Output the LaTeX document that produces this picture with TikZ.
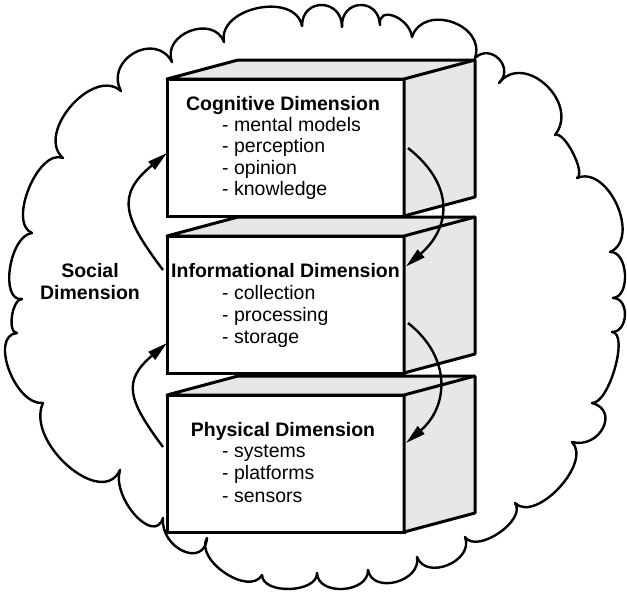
\documentclass[tikz,border=0pt]{standalone}
\usepackage{fontspec}
\setmainfont{Liberation Sans}
\usetikzlibrary{calc,arrows.meta}
\definecolor{facegray}{RGB}{230,231,233}
\begin{document}
\begin{tikzpicture}[x=1pt,y=-1pt,
  cloudline/.style={line width=2.4pt, line cap=round},
  boxline/.style={line width=3pt},
  frontface/.style={boxline, draw=black, fill=white, minimum width=237pt, minimum height=137pt, inner sep=0pt, outer sep=0pt, line join=miter},
  sideface/.style={boxline, draw=black, fill=facegray, line join=round},
  title/.style={font=\fontsize{19.5}{22}\selectfont\bfseries, inner sep=0pt, anchor=base},
  item/.style={font=\fontsize{19.5}{22}\selectfont, inner sep=0pt, anchor=base west},
  flow/.style={line width=2.4pt, -{Triangle[length=20pt,width=10pt]}}
]
\useasboundingbox (0,0) rectangle (627,592);
% cloud (social dimension)
\foreach \px/\py/\bx/\by [remember=\bx as \ax (initially 475), remember=\by as \ay (initially 58)] in {
 499/59/499/83, 546/85/555/135, 573/153/577/178, 617/205/610/252, 625/274/613/298,
 625/315/612/332, 615/368/592/403, 603/428/572/442, 559/488/515/503, 499/533/465/537,
 448/565/417/557, 396/582/368/570, 343/589/317/573, 290/589/262/575, 225/573/207/538,
 183/551/163/518, 135/515/120/470, 68/466/43/403, 9/370/17/333, 12/316/22/299,
 10/268/32/233, 29/188/63/158, 71/106/121/91, 134/53/172/62, 190/31/224/42,
 258/8/302/26, 322/5/342/27, 360/5/380/25, 394/16/412/37, 452/22/475/58}
 \draw[cloudline] (\ax,\ay) .. controls ($0.3333*(\ax,\ay)+1.3333*(\px,\py)-0.6667*(\bx,\by)$) and ($0.3333*(\bx,\by)+1.3333*(\px,\py)-0.6667*(\ax,\ay)$) .. (\bx,\by);

% boxes
\node[frontface] (phys) at (285.5,463.5) {};
\draw[sideface] (phys.north west) -- ++(71,-19) -- ++(237,0) -- ++(0,137) -- ++(-71,19) -- (phys.north east) -- cycle;
\draw[boxline] (phys.north east) -- ++(71,-19);

\node[frontface] (info) at (285.5,304.5) {};
\draw[sideface] (info.north west) -- ++(71,-19) -- ++(237,0) -- ++(0,137) -- ++(-71,19) -- (info.north east) -- cycle;
\draw[boxline] (info.north east) -- ++(71,-19);

\node[frontface] (cog) at (285.5,147.5) {};
\draw[sideface] (cog.north west) -- ++(71,-19) -- ++(237,0) -- ++(0,137) -- ++(-71,19) -- (cog.north east) -- cycle;
\draw[boxline] (cog.north east) -- ++(71,-19);

% texts
\node[title] (cogt) at (283,110) {Cognitive Dimension};
\node[item] (cog1) at (222,131) {- mental models};
\node[item] (cog2) at (222,152) {- perception};
\node[item] (cog3) at (222,174) {- opinion};
\node[item] (cog4) at (222,195) {- knowledge};

\node[title] (inft) at (285.5,277) {Informational Dimension};
\node[item] (inf1) at (222,299) {- collection};
\node[item] (inf2) at (222,321) {- processing};
\node[item] (inf3) at (222,343) {- storage};

\node[title] (phyt) at (283,436) {Physical Dimension};
\node[item] (phy1) at (222,457) {- systems};
\node[item] (phy2) at (222,479) {- platforms};
\node[item] (phy3) at (222,502) {- sensors};

\node[title] (soc1) at (90,277) {Social};
\node[title] (soc2) at (90,299) {Dimension};

% arrows
\draw[flow] ([shift={(-4,-34.5)}]info.west) .. controls +(-40,-53) and +(-51,42) .. ([shift={(0,5.5)}]cog.west);
\draw[flow] ([shift={(-4,-16.5)}]phys.west) .. controls +(-35,-47) and +(-45,38) .. ([shift={(0,38.5)}]info.west);
\draw[flow] ([shift={(4,0.5)}]cog.east) .. controls +(47,37) and +(45,-39) .. ([shift={(2,-38)}]info.east);
\draw[flow] ([shift={(4,18.5)}]info.east) .. controls +(44,34.5) and +(42.5,-36.4) .. ([shift={(2,-20.5)}]phys.east);
\end{tikzpicture}
\end{document}
